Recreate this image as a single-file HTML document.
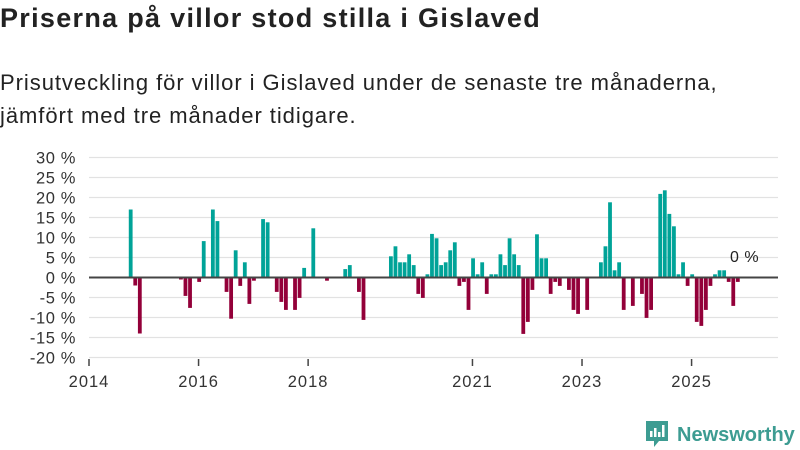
<!DOCTYPE html>
<html><head><meta charset="utf-8"><style>
body{margin:0;background:#fff;width:800px;height:450px;overflow:hidden;font-family:"Liberation Sans",sans-serif;color:#222}
#title{position:absolute;left:0;top:3px;font-size:27px;letter-spacing:1.3px;font-weight:bold;margin:0;white-space:nowrap}
#sub{position:absolute;left:0;top:66px;font-size:22px;letter-spacing:0.95px;line-height:33px;color:#222;width:800px;white-space:nowrap}
svg{position:absolute;left:0;top:0}
</style></head><body>
<h1 id="title">Priserna på villor stod stilla i Gislaved</h1>
<div id="sub">Prisutveckling för villor i Gislaved under de senaste tre månaderna,<br>jämfört med tre månader tidigare.</div>
<svg id="chart" width="800" height="450"></svg>
<script>
const monthIdx=[9,10,11,20,21,22,24,25,27,28,30,31,32,33,34,35,36,38,39,41,42,43,45,46,47,49,52,56,57,59,60,66,67,68,69,70,71,72,73,74,75,76,77,78,79,80,81,82,83,84,85,86,87,88,89,90,91,92,93,94,95,96,97,98,99,100,101,102,103,105,106,107,109,112,113,114,115,116,117,119,121,122,123,125,126,127,128,129,130,131,132,133,134,135,136,137,138,139,140,141,142];
const values=[17,-2,-14,-0.5,-4.6,-7.6,-1.1,9.1,17,14.1,-3.6,-10.3,6.8,-2.1,3.8,-6.6,-0.8,14.6,13.8,-3.6,-6.1,-8.1,-8.1,-5.1,2.4,12.3,-0.8,2.1,3.1,-3.6,-10.6,5.3,7.8,3.8,3.8,5.8,3.1,-4.1,-5.1,0.8,10.9,9.8,3.1,3.8,6.8,8.8,-2.1,-1.1,-8.1,4.8,0.8,3.8,-4.1,0.8,0.8,5.8,3.1,9.8,5.8,3.1,-14.1,-11.1,-3.1,10.8,4.8,4.8,-4.1,-1.1,-2.1,-3.1,-8.1,-9.1,-8.1,3.8,7.8,18.8,1.8,3.8,-8.1,-7.1,-4.1,-10.1,-8.1,20.9,21.8,15.9,12.8,0.8,3.8,-2.1,0.8,-11.1,-12.1,-8.1,-2.1,0.8,1.8,1.8,-1.1,-7.1,-1.1];
const yTicks=[30,25,20,15,10,5,0,-5,-10,-15,-20];
const yTickLabels=["30 %","25 %","20 %","15 %","10 %","5 %","0 %","-5 %","-10 %","-15 %","-20 %"];
const xTickMonths=[0,24,48,84,108,132];
const xTickLabels=["2014","2016","2018","2021","2023","2025"];
const lastLabel="0 %";
const NS="http://www.w3.org/2000/svg";
const svg=document.getElementById('chart');
const y=v=>277.5-v*4;
const x=m=>89+m*4.565;
function mk(t,a){const e=document.createElementNS(NS,t);for(const k in a)e.setAttribute(k,a[k]);svg.appendChild(e);return e;}
yTicks.forEach((v,i)=>{
  const g=mk('line',{x1:89,x2:778,y1:y(v),y2:y(v),stroke:'#e2e2e2','stroke-width':1.2});
  
  
  const t=mk('text',{x:76,y:y(v)+6,'text-anchor':'end','font-size':16.5,'letter-spacing':0.6,fill:'#333','font-family':'Liberation Sans, sans-serif'});
  t.textContent=yTickLabels[i];
  
  
});
xTickMonths.forEach((m,i)=>{
  const l=mk('line',{x1:x(m),x2:x(m),y1:359,y2:366,stroke:'#444','stroke-width':1.5});
  
  
  const t=mk('text',{x:x(m),y:387,'text-anchor':'middle','font-size':16.5,'letter-spacing':1,fill:'#333','font-family':'Liberation Sans, sans-serif'});
  t.textContent=xTickLabels[i];
  
  
});
monthIdx.forEach((m,i)=>{
  const v=values[i];
  const b=mk('rect',{x:x(m)-1.3,y:Math.min(y(v),y(0)),width:3.8,height:Math.abs(y(v)-y(0)),fill:v>=0?'#00a398':'#930039'});
  
  
});
const z=mk('line',{x1:89,x2:778,y1:y(0),y2:y(0),stroke:'#444','stroke-width':2});


const ll=mk('text',{x:730,y:262,'font-size':16,'letter-spacing':0.5,fill:'#222','font-family':'Liberation Sans, sans-serif'});
ll.textContent=lastLabel;


</script>
<svg width="800" height="450" style="position:absolute;left:0;top:0">
<path d="M646 421 h22 v20 h-9 l-5 6 v-6 h-8 z" fill="#3d9c92"/>
<rect x="650" y="431" width="2.5" height="6" fill="#fff"/><rect x="654" y="428" width="2.5" height="9" fill="#fff"/><rect x="658" y="432" width="2.5" height="5" fill="#fff"/><rect x="662" y="425" width="2.5" height="12" fill="#fff"/>
<text x="677" y="441" font-size="20" font-weight="bold" fill="#3d9c92" font-family="Liberation Sans, sans-serif">Newsworthy</text>
</svg>
</body></html>
